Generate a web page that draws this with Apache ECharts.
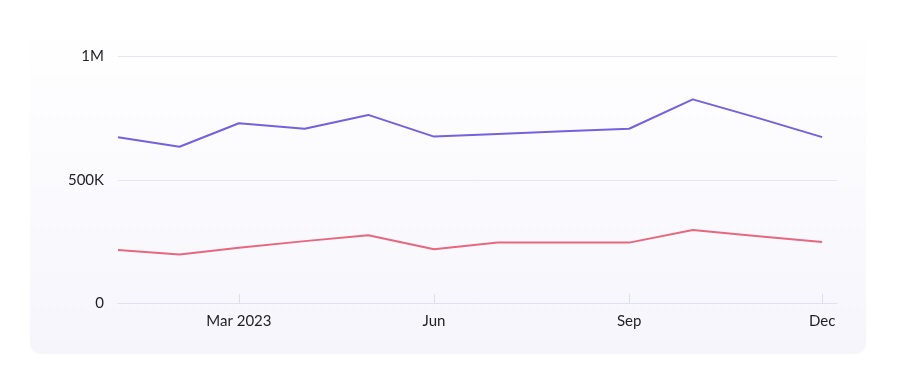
<!DOCTYPE html>
<html>
<head>
<meta charset="utf-8">
<script src="https://cdn.jsdelivr.net/npm/echarts@6/dist/echarts.min.js"></script>
<style>html,body{margin:0;padding:0;background:#fff}#c{width:900px;height:374px}</style>
</head>
<body>
<div id="c"></div>
<script>
const dates = ['2023-01-03','2023-02-01','2023-03-01','2023-04-01','2023-05-01','2023-06-01','2023-07-01','2023-08-01','2023-09-01','2023-10-01','2023-11-01','2023-12-01'];
const seriesA = [672000, 634000, 729000, 707000, 763000, 675000, 686000, 697000, 707000, 826000, 750000, 673000];
const seriesB = [215000, 197000, 224000, 251000, 275000, 218000, 245000, 245000, 245000, 296000, 271000, 247000];
const tickDates = ['2023-03-01','2023-06-01','2023-09-01','2023-12-01'];
const tickLabels = ['Mar 2023','Jun','Sep','Dec'];
const yTicks = [0, 500000, 1000000];
const yLabels = ['0','500K','1M'];

const ms = d => Date.parse(d + 'T00:00:00Z');
const tickMs = tickDates.map(ms);
const chart = echarts.init(document.getElementById('c'), null, {renderer:'canvas'});
chart.setOption({
  animation: false,
  graphic: [{
    type: 'rect', z: -10, silent: true,
    shape: {x: 30, y: 20, width: 836, height: 334, r: 10},
    style: {fill: new echarts.graphic.LinearGradient(0, 0, 0, 1, [
      {offset: 0, color: '#ffffff'}, {offset: 1, color: '#f6f5fc'}])}
  }],
  grid: {left: 118, right: 63, top: 56.5, bottom: 71, containLabel: false},
  xAxis: {
    type: 'value',
    min: ms('2023-01-03'),
    max: ms('2023-12-08'),
    axisLine: {show: true, lineStyle: {color: '#e2e0f3', width: 1}},
    axisTick: {show: true, inside: true, length: 9, lineStyle: {color: '#dedcef'}, customValues: tickMs},
    splitLine: {show: false},
    axisLabel: {
      customValues: tickMs,
      margin: 11,
      color: '#1f1f24', fontSize: 15, fontFamily: 'Lato',
      formatter: function (v) { const i = tickMs.indexOf(v); return i >= 0 ? tickLabels[i] : ''; }
    }
  },
  yAxis: {
    type: 'value', min: 0, max: 1000000, interval: 500000,
    axisLine: {show: false}, axisTick: {show: false},
    splitLine: {lineStyle: {color: '#e6e4f6', width: 1}},
    axisLabel: {
      margin: 14, color: '#1f1f24', fontSize: 15, fontFamily: 'Lato',
      verticalAlign: 'middle', padding: [0, 0, 12, 0],
      formatter: function (v) { const i = yTicks.indexOf(v); return i >= 0 ? yLabels[i] : ''; }
    }
  },
  series: [
    {type: 'line', data: dates.map((d, i) => [ms(d), seriesA[i]]), showSymbol: false,
     lineStyle: {color: '#7561dd', width: 2}, itemStyle: {color: '#7561dd'}},
    {type: 'line', data: dates.map((d, i) => [ms(d), seriesB[i]]), showSymbol: false,
     lineStyle: {color: '#e8677f', width: 2}, itemStyle: {color: '#e8677f'}}
  ]
});
</script>
</body>
</html>
